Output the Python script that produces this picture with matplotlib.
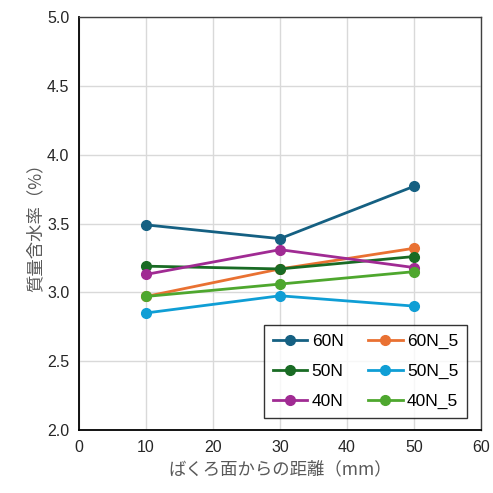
import matplotlib
matplotlib.use('Agg')
import matplotlib.pyplot as plt

plt.rcParams['font.family'] = ['Liberation Sans', 'Noto Sans CJK JP', 'DejaVu Sans']

dist = [10, 30, 50]
names = ['60N', '60N_5', '50N', '50N_5', '40N', '40N_5']
values = [
    [3.49, 3.39, 3.77],
    [2.97, 3.17, 3.32],
    [3.19, 3.17, 3.26],
    [2.85, 2.975, 2.90],
    [3.13, 3.31, 3.18],
    [2.97, 3.06, 3.15],
]
colors = ['#156082', '#E97132', '#196B24', '#0F9ED5', '#A02B93', '#4EA72E']

fig = plt.figure(figsize=(4.93, 4.93), dpi=100)
ax = fig.add_axes([0.1602, 0.1278, 0.8154, 0.8377])

lines = []
for n, v, c in zip(names, values, colors):
    ln, = ax.plot(dist, v, color=c, lw=2, marker='o', ms=7, label=n)
    lines.append(ln)

ax.set_xlim(0, 60)
ax.set_ylim(2.0, 5.0)
ax.set_xticks(range(0, 61, 10))
ax.set_yticks([2.0, 2.5, 3.0, 3.5, 4.0, 4.5, 5.0])
ax.set_yticklabels(['%.1f' % t for t in ax.get_yticks()])
ax.grid(color='#d9d9d9', lw=1)
ax.set_axisbelow(True)
for s in ['top', 'right']:
    ax.spines[s].set_color('#404040')
    ax.spines[s].set_linewidth(1)
for s in ['left', 'bottom']:
    ax.spines[s].set_color('black')
    ax.spines[s].set_linewidth(1.3)
ax.tick_params(length=0, labelsize=11.5, colors='#262626', pad=7)

ax.set_xlabel('ばくろ面からの距離（mm）', fontsize=12.5, color='#595959',
              family=['Noto Sans CJK JP'], labelpad=4)
ax.set_ylabel('質量含水率（%）', fontsize=12.5, color='#595959',
              family=['Noto Sans CJK JP'], labelpad=2)

# row-major order in the legend
order = [0, 2, 4, 1, 3, 5]
leg = ax.legend([lines[i] for i in order], [names[i] for i in order],
                ncol=2, loc='upper right',
                bbox_to_anchor=(467 / 493, 1 - 325 / 493),
                bbox_transform=fig.transFigure,
                fontsize=12.5, frameon=True, fancybox=False, edgecolor='black',
                handlelength=2.0, columnspacing=1.4, labelspacing=0.85,
                borderpad=0.5, handletextpad=0.25, borderaxespad=0)
leg.get_frame().set_linewidth(1)

fig.savefig('out.png', dpi=100)
